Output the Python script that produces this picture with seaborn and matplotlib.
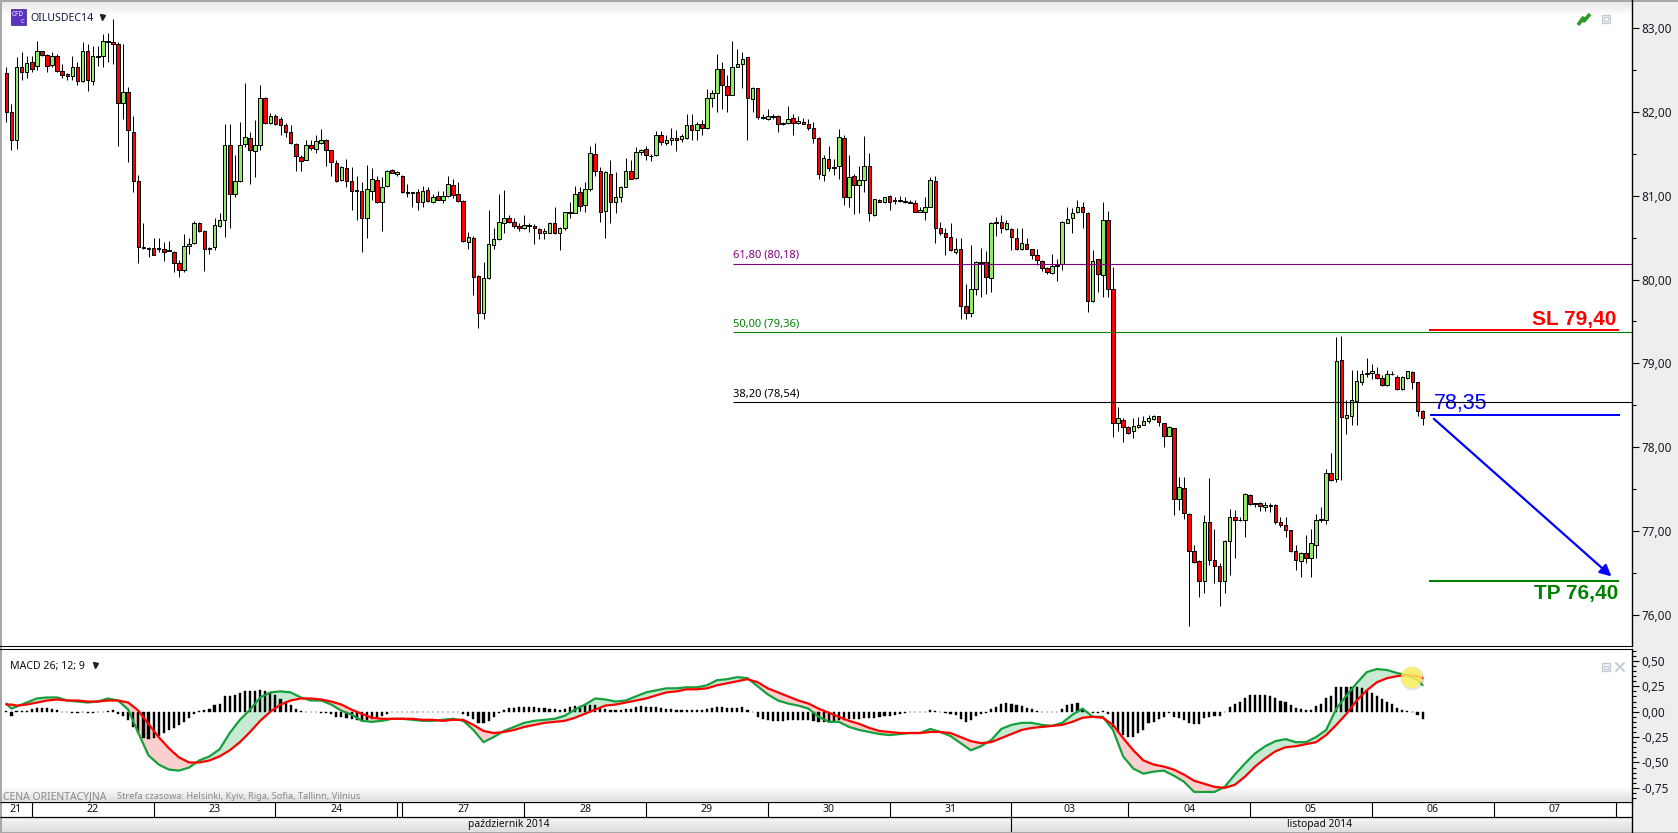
import numpy as np
import pandas as pd
import matplotlib
matplotlib.use("Agg")
import matplotlib.pyplot as plt
from matplotlib.patches import Rectangle
from matplotlib.ticker import FixedLocator, FuncFormatter
import seaborn as sns

# hourly candles
opens = [
    82.46,82.00,81.67,82.53,82.47,82.60,82.55,82.73,82.68,82.56,
    82.67,82.49,82.45,82.43,82.53,82.37,82.73,82.37,82.66,82.67,
    82.84,82.83,82.81,82.11,82.24,81.76,81.17,80.39,80.38,80.38,
    80.38,80.36,80.35,80.33,80.20,80.11,80.40,80.44,80.67,80.58,
    80.36,80.39,80.64,80.71,81.60,81.02,81.17,81.62,81.69,81.53,
    81.61,82.16,81.87,81.95,81.92,81.84,81.76,81.62,81.46,81.43,
    81.60,81.56,81.63,81.66,81.54,81.39,81.19,81.33,81.17,81.07,
    81.06,80.73,81.06,81.19,80.92,81.11,81.31,81.26,81.24,81.05,
    81.04,81.05,80.92,81.07,80.92,81.00,80.95,81.00,81.13,81.02,
    80.94,80.45,80.50,80.04,79.60,80.02,80.41,80.48,80.68,80.74,
    80.69,80.64,80.62,80.65,80.64,80.60,80.55,80.56,80.68,80.56,
    80.61,80.81,80.79,81.04,80.89,81.08,81.50,81.30,80.82,81.26,
    80.92,80.98,81.10,81.30,81.21,81.52,81.56,81.47,81.48,81.72,
    81.63,81.67,81.69,81.68,81.69,81.84,81.78,81.85,81.81,82.17,
    82.23,82.51,82.31,82.20,82.54,82.57,82.65,82.15,82.28,81.94,
    81.92,81.95,81.95,81.87,81.87,81.93,81.87,81.88,81.86,81.81,
    81.69,81.25,81.44,81.34,81.35,81.69,80.98,81.24,81.13,81.19,
    81.35,80.77,80.95,80.92,81.00,80.95,80.95,80.94,80.92,80.91,
    80.81,80.81,80.87,81.17,80.61,80.55,80.51,80.33,80.36,79.69,
    79.60,79.89,80.21,80.21,80.02,80.69,80.69,80.60,80.60,80.50,
    80.36,80.43,80.36,80.29,80.22,80.14,80.08,80.17,80.18,80.68,
    80.73,80.80,80.86,80.79,79.74,80.24,80.06,80.71,79.89,78.29,
    78.33,78.24,78.19,78.24,78.27,78.31,78.34,78.37,78.29,78.14,
    78.23,77.38,77.52,77.21,76.76,76.64,76.40,77.11,76.66,76.58,
    76.40,76.88,77.17,77.13,77.13,77.43,77.33,77.33,77.29,77.31,
    77.31,77.11,77.07,77.01,76.76,76.64,76.74,76.68,76.84,77.13,
    77.13,77.69,77.62,79.04,78.35,78.37,78.55,78.78,78.87,78.88,
    78.87,78.83,78.74,78.87,78.84,78.70,78.83,78.90,78.78,78.43,
]
closes = [
    82.00,81.67,82.53,82.48,82.58,82.51,82.73,82.68,82.55,82.67,
    82.49,82.44,82.43,82.53,82.37,82.73,82.38,82.67,82.67,82.85,
    82.83,82.81,82.11,82.24,81.78,81.17,80.39,80.38,80.37,80.29,
    80.37,80.33,80.34,80.20,80.11,80.40,80.43,80.67,80.58,80.36,
    80.38,80.65,80.71,81.60,81.02,81.18,81.60,81.70,81.54,81.61,
    82.16,81.87,81.95,81.85,81.84,81.76,81.63,81.47,81.41,81.60,
    81.57,81.65,81.67,81.54,81.40,81.17,81.34,81.17,81.06,81.06,
    80.73,81.08,81.20,80.92,81.10,81.29,81.27,81.28,81.05,81.03,
    81.03,80.92,81.06,80.94,80.98,80.95,81.00,81.14,81.01,80.94,
    80.46,80.51,80.03,79.60,80.02,80.42,80.48,80.69,80.74,80.69,
    80.64,80.61,80.65,80.64,80.61,80.55,80.58,80.68,80.55,80.61,
    80.81,80.79,81.02,80.88,81.08,81.51,81.30,80.81,81.28,80.92,
    80.98,81.10,81.30,81.20,81.52,81.55,81.48,81.47,81.72,81.64,
    81.67,81.69,81.67,81.71,81.84,81.78,81.86,81.81,82.17,82.22,
    82.51,82.32,82.20,82.54,82.57,82.63,82.16,82.29,81.94,81.93,
    81.95,81.94,81.85,81.86,81.92,81.87,81.89,81.86,81.81,81.69,
    81.26,81.45,81.33,81.33,81.70,80.98,81.22,81.13,81.19,81.35,
    80.79,80.96,80.93,80.98,80.92,80.94,80.94,80.92,80.91,80.81,
    80.83,80.86,81.19,80.61,80.55,80.51,80.35,80.36,79.69,79.60,
    79.89,80.21,80.20,80.03,80.68,80.68,80.61,80.68,80.51,80.37,
    80.44,80.36,80.29,80.23,80.14,80.09,80.16,80.16,80.69,80.72,
    80.79,80.86,80.80,79.74,80.22,80.07,80.71,79.89,78.29,78.35,
    78.24,78.17,78.25,78.27,78.31,78.35,78.37,78.30,78.13,78.24,
    77.38,77.53,77.22,76.76,76.63,76.41,77.11,76.66,76.59,76.41,
    76.88,77.17,77.13,77.13,77.44,77.32,77.32,77.30,77.31,77.30,
    77.11,77.07,77.01,76.76,76.65,76.74,76.68,76.86,77.13,77.14,
    77.69,77.61,79.03,78.36,78.38,78.56,78.79,78.87,78.89,78.91,
    78.83,78.74,78.87,78.87,78.69,78.84,78.91,78.78,78.43,78.35,
]
highs = [
    82.54,82.09,82.65,82.71,82.67,82.67,82.84,82.73,82.69,82.71,
    82.69,82.57,82.46,82.67,82.59,82.83,82.81,82.79,82.79,82.93,
    82.94,83.11,82.83,82.81,82.30,81.95,81.25,80.67,80.39,80.49,
    80.49,80.45,80.46,80.34,80.23,80.54,80.49,80.70,80.69,80.59,
    80.39,80.73,80.79,81.86,81.85,81.48,81.88,82.35,81.76,81.90,
    82.32,82.18,81.99,81.97,81.94,81.87,81.84,81.63,81.49,81.66,
    81.66,81.72,81.80,81.68,81.55,81.43,81.36,81.44,81.34,81.24,
    81.16,81.37,81.33,81.24,81.22,81.31,81.32,81.29,81.25,81.14,
    81.05,81.08,81.11,81.10,81.02,81.06,81.06,81.24,81.20,81.16,
    80.95,80.57,80.52,80.05,80.21,80.83,80.61,81.02,81.07,80.77,
    80.73,80.67,80.77,80.67,80.66,80.61,80.61,80.69,80.87,80.63,
    80.81,80.92,81.12,81.10,81.16,81.59,81.63,81.34,81.30,81.42,
    81.28,81.11,81.45,81.43,81.58,81.56,81.59,81.50,81.77,81.77,
    81.72,81.81,81.78,81.74,81.97,81.98,81.88,81.90,82.27,82.26,
    82.69,82.59,82.44,82.85,82.75,82.71,82.65,82.30,82.29,81.98,
    82.03,81.98,81.96,81.88,82.07,81.98,81.95,81.93,81.92,81.88,
    81.70,81.48,81.59,81.44,81.80,81.72,81.48,81.26,81.36,81.71,
    81.51,80.96,80.96,80.99,81.01,80.98,81.00,80.98,80.95,80.95,
    80.86,80.98,81.22,81.24,80.69,80.61,80.67,80.49,80.50,79.95,
    80.41,80.22,80.38,80.34,80.69,80.75,80.77,80.71,80.61,80.61,
    80.61,80.49,80.37,80.37,80.23,80.15,80.30,80.25,80.70,80.87,
    80.85,80.95,80.93,80.81,80.35,80.25,80.92,80.82,80.15,78.48,
    78.35,78.25,78.35,78.36,78.37,78.39,78.39,78.37,78.29,78.25,
    78.23,77.65,77.64,77.22,76.84,76.66,77.19,77.63,77.03,76.62,
    76.89,77.26,77.25,77.17,77.46,77.44,77.34,77.35,77.35,77.34,
    77.32,77.17,77.17,77.01,76.84,76.75,76.95,77.03,77.21,77.29,
    77.74,77.93,79.32,79.33,78.56,78.92,78.92,78.92,79.06,78.99,
    78.96,78.86,78.92,78.91,78.86,78.85,78.91,78.91,78.78,78.45,
]
lows = [
    81.88,81.54,81.56,82.38,82.40,82.48,82.50,82.67,82.48,82.54,
    82.48,82.40,82.38,82.38,82.32,82.36,82.25,82.32,82.55,82.53,
    82.59,82.57,81.59,81.92,81.40,81.04,80.20,80.36,80.27,80.29,
    80.33,80.22,80.34,80.09,80.03,80.09,80.31,80.43,80.57,80.10,
    80.30,80.35,80.63,80.51,80.61,80.98,81.16,81.58,81.14,81.22,
    81.54,81.86,81.86,81.84,81.72,81.70,81.62,81.29,81.29,81.42,
    81.54,81.51,81.62,81.35,81.23,81.16,81.18,81.10,80.83,80.71,
    80.33,80.49,80.95,80.91,80.58,81.10,81.27,81.24,81.03,80.98,
    80.86,80.83,80.87,80.92,80.91,80.95,80.91,80.98,80.97,80.92,
    80.45,80.37,79.81,79.42,79.53,80.01,80.37,80.47,80.55,80.67,
    80.62,80.58,80.60,80.57,80.43,80.48,80.48,80.55,80.54,80.35,
    80.59,80.74,80.79,80.82,80.81,81.06,81.24,80.69,80.50,80.67,
    80.79,80.93,81.10,81.20,81.20,81.48,81.43,81.41,81.47,81.61,
    81.61,81.61,81.53,81.64,81.68,81.66,81.66,81.72,81.80,82.06,
    82.00,82.04,82.00,82.20,82.53,82.28,81.66,82.00,81.92,81.91,
    81.90,81.92,81.76,81.84,81.85,81.72,81.85,81.85,81.78,81.63,
    81.20,81.18,81.29,81.25,81.20,80.89,80.87,80.78,80.79,81.04,
    80.70,80.76,80.93,80.91,80.83,80.90,80.92,80.91,80.91,80.80,
    80.80,80.71,80.86,80.44,80.53,80.29,80.34,80.31,79.53,79.53,
    79.55,79.81,79.79,79.83,79.85,80.52,80.55,80.59,80.35,80.35,
    80.35,80.36,80.24,80.17,80.10,80.07,80.07,79.98,80.11,80.67,
    80.55,80.79,80.62,79.61,79.73,79.85,79.79,79.79,78.12,78.19,
    78.06,78.16,78.11,78.23,78.27,78.29,78.33,78.25,78.00,78.13,
    77.19,77.25,77.15,75.87,76.62,76.21,76.26,76.60,76.38,76.11,
    76.26,76.48,76.68,77.12,76.93,77.31,77.29,77.24,77.24,77.23,
    77.09,77.05,76.93,76.75,76.54,76.45,76.62,76.45,76.68,77.11,
    77.09,77.60,77.58,77.61,78.16,78.27,78.26,78.74,78.84,78.81,
    78.82,78.73,78.73,78.86,78.68,78.68,78.82,78.70,78.37,78.27,
]

# MACD histogram, one value per candle
hist = [
    .01,-.04,.01,.01,.01,.03,.04,.04,.04,.03,
    .02,0,0,-.01,-.01,0,-.01,-.01,0,0,
    .01,.02,-.02,-.04,-.08,-.15,-.21,-.26,-.27,-.26,
    -.24,-.21,-.18,-.16,-.13,-.10,-.06,-.02,.01,.02,
    .03,.07,.08,.15,.15,.16,.18,.20,.20,.20,
    .21,.20,.18,.16,.12,.10,.07,.03,.01,0,
    0,0,-.01,-.01,-.02,-.05,-.05,-.06,-.07,-.08,
    -.09,-.08,-.07,-.06,-.04,-.02,0,0,0,0,
    0,0,0,0,0,0,0,0,0,0,
    -.02,-.04,-.07,-.11,-.11,-.09,-.05,-.01,.02,.04,
    .04,.05,.05,.05,.05,.04,.04,.03,.03,.02,
    .03,.05,.06,.06,.07,.07,.07,.04,.03,.02,
    .02,.02,.03,.03,.05,.06,.05,.05,.05,.04,
    .03,.03,.02,.02,.02,.02,.02,.02,.03,.04,
    .05,.05,.04,.04,.04,.05,.02,0,-.05,-.07,
    -.08,-.09,-.09,-.09,-.08,-.08,-.08,-.08,-.08,-.09,
    -.10,-.10,-.10,-.09,-.08,-.08,-.07,-.07,-.07,-.06,
    -.06,-.06,-.05,-.04,-.04,-.03,-.02,-.01,0,0,
    0,0,.02,.01,0,-.01,-.02,-.03,-.07,-.10,
    -.08,-.04,-.02,-.01,.03,.05,.08,.09,.08,.07,
    .06,.04,.03,.01,0,0,0,0,.03,.07,
    .08,.09,.03,0,-.01,-.01,.01,-.02,-.15,-.20,
    -.23,-.25,-.25,-.21,-.18,-.11,-.10,-.07,-.05,-.01,
    -.05,-.06,-.08,-.11,-.12,-.12,-.06,-.05,-.04,-.04,
    0,.05,.08,.10,.13,.16,.16,.16,.16,.15,
    .13,.11,.10,.07,.04,.03,.02,.02,.06,.08,
    .13,.15,.24,.24,.24,.24,.24,.23,.20,.18,
    .15,.12,.10,.08,.04,.02,.01,0,-.03,-.07,
]

# MACD and signal lines, read every second candle
macd_bars = sorted([1, 279] + list(range(0, 280, 2)))
macd_line = [
    .08,.03,.05,.09,.13,.14,.14,.11,.10,.09,.10,.13,.11,.02,-.21,-.43,-.52,-.57,-.58,-.55,
    -.48,-.44,-.37,-.21,-.08,.02,.14,.19,.20,.19,.14,.11,.11,.07,.01,-.03,-.09,-.10,-.09,-.07,
    -.07,-.08,-.09,-.09,-.08,-.07,-.09,-.18,-.30,-.25,
    -.19,-.15,-.11,-.09,-.08,-.07,-.04,.02,.07,.13,.12,.10,.11,.15,.19,.21,.23,.23,.24,.24,
    .26,.31,.32,.34,.33,.25,.17,.11,.08,.06,.03,-.05,-.10,-.10,-.15,-.18,-.20,-.22,-.23,-.22,
    -.21,-.21,-.17,-.20,-.24,
    -.31,-.38,-.34,-.28,-.17,-.13,-.11,-.11,-.13,-.14,-.11,-.03,.03,-.05,-.05,-.18,-.44,-.56,-.61,-.59,
    -.58,-.63,-.69,-.79,-.79,-.79,-.74,-.62,-.51,-.41,-.34,-.29,-.27,-.30,-.30,-.25,-.18,.03,.16,.28,
    .39,.42,.41,.38,.36,.31,.26,
]
signal_line = [
    .07,.07,.06,.07,.09,.11,.12,.11,.11,.10,.10,.11,.11,.09,.01,-.12,-.25,-.36,-.45,-.50,
    -.50,-.48,-.44,-.38,-.30,-.20,-.09,0,.07,.11,.13,.13,.12,.10,.07,.02,-.02,-.06,-.07,-.07,
    -.07,-.07,-.08,-.08,-.09,-.08,-.08,-.13,-.19,-.21,
    -.20,-.18,-.15,-.13,-.11,-.10,-.09,-.06,-.02,.02,.06,.07,.09,.11,.13,.16,.19,.20,.22,.22,
    .23,.26,.28,.30,.32,.29,.23,.19,.15,.11,.08,.03,-.01,-.05,-.09,-.12,-.16,-.19,-.20,-.21,
    -.21,-.21,-.20,-.20,-.21,
    -.25,-.29,-.31,-.30,-.26,-.22,-.18,-.16,-.15,-.14,-.13,-.10,-.06,-.05,-.06,-.13,-.26,-.38,-.48,-.52,
    -.54,-.57,-.62,-.68,-.71,-.74,-.75,-.72,-.64,-.54,-.46,-.39,-.35,-.34,-.32,-.30,-.23,-.13,-.02,.11,
    .21,.29,.33,.35,.36,.35,.33,
]

# fibo levels and trade levels
fib_levels = [80.19, 79.37, 78.54]
fib_labels = ["61,80 (80,18)", "50,00 (79,36)", "38,20 (78,54)"]
fib_colors = ["#800080", "#008000", "#000000"]
stop_loss = 79.40
entry = 78.39
take_profit = 76.40

# date axis, in candle numbers
day_edges = [5, 29, 53, 77, 78, 102, 126, 150, 174, 198, 221, 245, 269, 293, 317]
day_labels = ["21", "22", "23", "24", "27", "28", "29", "30", "31", "03", "04", "05", "06", "07"]
month_edge = 198

W, H = 1678, 833
PANE_R = 1632
FONT = ["Noto Sans", "DejaVu Sans"]

sns.set_theme(style="white")
plt.rcParams["font.family"] = FONT
plt.rcParams["axes.unicode_minus"] = False

df = pd.DataFrame({"open": opens, "high": highs, "low": lows, "close": closes, "hist": hist})
df["bar"] = np.arange(len(df))
lines = pd.DataFrame({"bar": macd_bars, "macd": macd_line, "signal": signal_line})


def comma(v, _pos=None):
    return f"{v:.2f}".replace(".", ",")


def pane(top, bottom):
    a = fig.add_axes([0, 1 - bottom / H, PANE_R / W, (bottom - top) / H])
    a.set_facecolor("none")
    a.set_zorder(2)
    return a


def fade(ax, y0, y1, c0, c1, x0=0, x1=PANE_R):
    ramp = np.linspace(c0, c1, 64).reshape(-1, 1)
    ax.imshow(ramp, extent=(x0, x1, y1, y0), cmap="gray", vmin=0, vmax=1, zorder=1.5,
              aspect="auto", interpolation="bilinear", origin="upper")


fig = plt.figure(figsize=(W / 100, H / 100), dpi=100, facecolor="#ececec")

# window chrome behind the panes
chrome = fig.add_axes([0, 0, 1, 1])
chrome.add_patch(Rectangle((0, 0), PANE_R, 817, color="white", lw=0))
fade(chrome, 0, 16, 0.89, 1.0)
fade(chrome, 786, 802, 1.0, 0.87)
fade(chrome, 817, 832, 0.96, 0.87)
chrome.set_xlim(0, W)
chrome.set_ylim(H, 0)
chrome.axis("off")
chrome.add_patch(Rectangle((0, 0), W, 1.5, color="#a8a8a8", lw=0, zorder=3))
chrome.add_patch(Rectangle((0, 0), 1.5, H, color="#a8a8a8", lw=0, zorder=3))
chrome.add_patch(Rectangle((0, H - 1.5), W, 1.5, color="#a8a8a8", lw=0, zorder=3))
chrome.add_patch(Rectangle((PANE_R, 0), W - PANE_R, H, color="#eeeeee", lw=0, zorder=0.5))

# instrument badge and title
chrome.add_patch(Rectangle((11, 9), 14.5, 15.5, facecolor="#5a32c0", edgecolor="#3a2090", lw=0.5, zorder=3))
chrome.text(18, 14.5, "CFD", color="white", fontsize=4.6, ha="center", va="center", fontweight="bold", zorder=4)
chrome.text(22, 21, "C", color="white", fontsize=4.2, ha="center", va="center", fontweight="bold", zorder=4)
chrome.text(30, 18, "OILUSDEC14", fontsize=7.6, color="#101840", va="center", zorder=4)
chrome.plot([102], [17], marker="v", ms=3.6, color="#202020", zorder=4)
chrome.text(10, 666, "MACD 26; 12; 9", fontsize=7.6, color="#101010", va="center", zorder=4)
chrome.plot([95], [664.5], marker="v", ms=3.6, color="#202020", zorder=4)
chrome.text(3, 796.5, "CENA ORIENTACYJNA", fontsize=7.5, color="#8a8a8a", va="center", zorder=4)
chrome.text(117, 796.5, "Strefa czasowa: Helsinki, Kyiv, Riga, Sofia, Tallinn, Vilnius", fontsize=6.65,
            color="#8a8a8a", va="center", zorder=4)

# small window icons
chrome.plot([1578, 1583, 1584, 1590], [25, 18, 21, 14], color="#2e9a26", lw=2.6, solid_capstyle="butt", zorder=4)
for x, y in [(1605.5, 18.5), (1605.5, 667)]:
    chrome.add_patch(Rectangle((x - 4, y - 4), 8, 8, facecolor="#f4f6f8", edgecolor="#c4ccd4", lw=1, zorder=3))
    chrome.add_patch(Rectangle((x - 1.5, y - 1.5), 3.5, 3.5, facecolor="none", edgecolor="#c4ccd4", lw=0.8, zorder=3))
chrome.plot([1616, 1624], [663, 671], color="#c8d0d8", lw=1.6, zorder=3)
chrome.plot([1616, 1624], [671, 663], color="#c8d0d8", lw=1.6, zorder=3)

xlim = (-1.26, 320.25)

# price pane
ax = pane(0, 646)
ax.set_xlim(*xlim)
ax.set_ylim(75.63, 83.334)

up = df["close"] >= df["open"]
bar_colors = np.where(up, "#92ea66", "#ff0000")
ax.vlines(df["bar"], df["low"], df["high"], color="black", lw=0.72, zorder=2)
ax.bar(df["bar"], (df["close"] - df["open"]).abs(), bottom=df[["open", "close"]].min(axis=1),
       width=0.7, color=bar_colors, edgecolor="black", linewidth=0.72, zorder=3)

fib_start = 143.2
for level, label, color in zip(fib_levels, fib_labels, fib_colors):
    ax.hlines(level, fib_start, xlim[1], color=color, lw=0.8, zorder=4)
    ax.text(fib_start, level + 0.035, label, color=color, fontsize=8, va="bottom", ha="left", zorder=5)

ax.hlines(stop_loss, 280.3, 317.7, color="#ff0000", lw=1.45, zorder=4)
ax.text(317.1, stop_loss + 0.01, "SL 79,40", color="#ff0000", fontsize=15, fontweight="bold",
        ha="right", va="bottom", fontfamily="Liberation Sans")
ax.hlines(entry, 280.5, 317.9, color="#0000ff", lw=1.45, zorder=4)
ax.text(281.2, entry + 0.005, "78,35", color="#0000ff", fontsize=15.5,
        ha="left", va="bottom", fontfamily="Liberation Sans")
ax.hlines(take_profit, 280.3, 317.7, color="#008000", lw=1.45, zorder=4)
ax.text(317.5, take_profit - 0.03, "TP 76,40", color="#008000", fontsize=15, fontweight="bold",
        ha="right", va="top", fontfamily="Liberation Sans")
ax.annotate("", xy=(316.2, 76.46), xytext=(281.2, 78.34),
            arrowprops=dict(arrowstyle="-|>", color="#0000ff", lw=1.6, mutation_scale=17,
                            shrinkA=0, shrinkB=0), zorder=4)

ax.yaxis.tick_right()
ax.yaxis.set_major_locator(FixedLocator(np.arange(76, 84)))
ax.yaxis.set_minor_locator(FixedLocator(np.arange(75.5, 83.5, 1)))
ax.yaxis.set_major_formatter(FuncFormatter(comma))
ax.tick_params(axis="y", which="major", right=True, length=5, width=0.8, pad=1.5, labelsize=8.5,
               labelcolor="#1a1a2a", color="black")
ax.tick_params(axis="y", which="minor", right=True, length=3, width=0.8, color="black")
ax.set_xticks([])
for side in ["left", "top"]:
    ax.spines[side].set_visible(False)
ax.spines["bottom"].set_color("black")
ax.spines["bottom"].set_linewidth(0.75)
ax.spines["right"].set_color("black")
ax.spines["right"].set_linewidth(1)

# MACD pane
ax2 = pane(649, 802)
sns.barplot(data=df, x="bar", y="hist", native_scale=True, width=0.42, color="black",
            edgecolor="black", linewidth=0.3, ax=ax2, zorder=2)
ax2.fill_between(lines["bar"], lines["macd"], lines["signal"], where=lines["macd"] >= lines["signal"],
                 interpolate=True, color="#c8e9d2", lw=0, zorder=1)
ax2.fill_between(lines["bar"], lines["macd"], lines["signal"], where=lines["macd"] <= lines["signal"],
                 interpolate=True, color="#fbcfcd", lw=0, zorder=1)
sns.lineplot(data=lines, x="bar", y="macd", color="#14a03c", lw=1.6, ax=ax2, zorder=3)
sns.lineplot(data=lines, x="bar", y="signal", color="#ff0000", lw=1.6, ax=ax2, zorder=4)
ax2.scatter([277.0], [0.335], s=290, color="#909090", alpha=0.25, linewidth=0, zorder=4.5)
ax2.scatter([276.8], [0.345], s=235, color="#fff35a", alpha=0.8, linewidth=0, zorder=5)
ax2.set_xlim(*xlim)
ax2.set_ylim(-0.889, 0.617)
ax2.set_xlabel("")
ax2.set_ylabel("")
ax2.set_xticks([])
ax2.yaxis.tick_right()
ax2.yaxis.set_major_locator(FixedLocator(np.arange(-0.75, 0.75, 0.25)))
ax2.yaxis.set_minor_locator(FixedLocator(np.arange(-0.85, 0.61, 0.05)))
ax2.yaxis.set_major_formatter(FuncFormatter(comma))
ax2.tick_params(axis="y", which="major", right=True, length=5, width=0.8, pad=1.5, labelsize=8.5,
                labelcolor="#1a1a2a", color="black")
ax2.tick_params(axis="y", which="minor", right=True, length=3, width=0.8, color="black")
for side in ["left", "bottom"]:
    ax2.spines[side].set_visible(False)
ax2.spines["top"].set_color("black")
ax2.spines["top"].set_linewidth(0.75)
ax2.spines["right"].set_color("black")
ax2.spines["right"].set_linewidth(1)

# date rows
ax3 = pane(802, 832)
ax3.set_xlim(*xlim)
ax3.set_ylim(2, 0)
ax3.set_xticks([])
ax3.set_yticks([])
ax3.vlines(day_edges, 0, 1, color="black", lw=0.8)
ax3.vlines(month_edge, 1, 2, color="black", lw=0.8)
ax3.hlines([0, 1], *xlim, color="black", lw=0.9)
spans = [(xlim[0], 5), (5, 29), (29, 53), (53, 77), (78, 102), (102, 126), (126, 150), (150, 174),
         (174, 198), (198, 221), (221, 245), (245, 269), (269, 293), (293, 317)]
for (a, b), lab in zip(spans, day_labels):
    ax3.text((a + b) / 2, 0.52, lab, ha="center", va="center", fontsize=7.6, color="#101010")
ax3.text(99, 1.52, "październik 2014", ha="center", va="center", fontsize=7.4, color="#101010")
ax3.text(258.7, 1.52, "listopad 2014", ha="center", va="center", fontsize=7.4, color="#101010")
for side in ["left", "top", "bottom"]:
    ax3.spines[side].set_visible(False)
ax3.spines["right"].set_color("black")
ax3.spines["right"].set_linewidth(1)

fig.savefig("out.png", dpi=100)
